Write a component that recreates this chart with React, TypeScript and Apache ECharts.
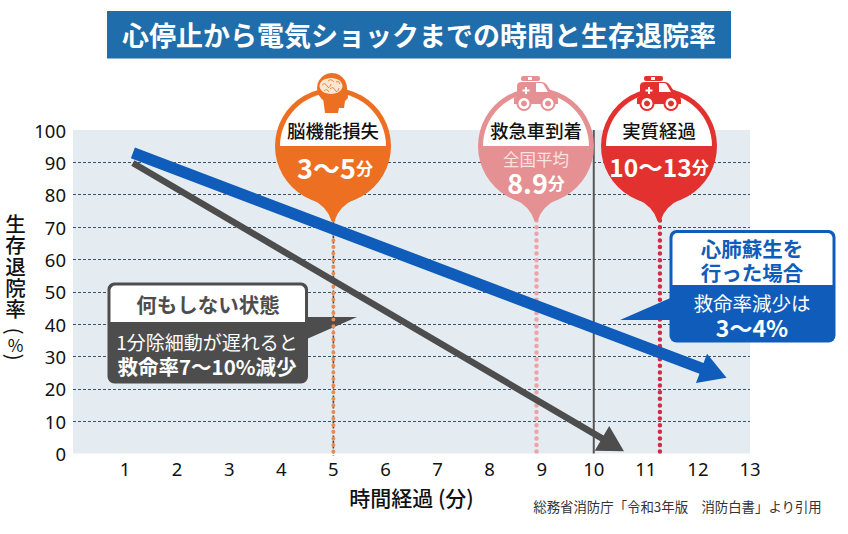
import React, { useEffect, useRef } from "react";
import * as echarts from "echarts";

const xTicks = [0, 1, 2, 3, 4, 5, 6, 7, 8, 9, 10, 11, 12, 13];
const yTicks = [0, 10, 20, 30, 40, 50, 60, 70, 80, 90, 100];
const withCare = [1.15, 92.9, 12.55, 23.4];
const noCare = [1.15, 89.8, 10.58, 0.7];
const brainTime = 5;
const ambulanceTime = 8.9;
const actualTime = 11.27;
const referenceTime = 10;
const pinFoot = -0.8;
const pinTop = 72;

const JP = '"Noto Sans CJK JP"';
const ORANGE = "#ec6f22";
const PINK = "#e59092";
const RED = "#e3312f";
const BLUE = "#0f5cbb";
const GRAY = "#4d4d4d";

echarts.graphic.registerShape(
  "pinTail",
  echarts.graphic.extendPath("M-22,53 Q-6,60 -1.5,75 L1.5,75 Q6,60 22,53 Z", {})
);
echarts.graphic.registerShape(
  "pinWhite",
  echarts.graphic.extendPath("M-53,0 A53,53 0 0,1 53,0 Z", {})
);
echarts.graphic.registerShape(
  "neck",
  echarts.graphic.extendPath("M-10,-48 L-8,-33 L5,-33 L6,-38 L11,-38 L12,-45 L15,-48 L14,-58 Z", {})
);
echarts.graphic.registerShape(
  "brainLines",
  echarts.graphic.extendPath(
    "M-11,-61 Q-8,-64 -6,-60 T-2,-62 M-9,-55 Q-6,-58 -4,-54 M-3,-57 Q0,-60 2,-56 T6,-58 M-5,-65 Q-2,-68 1,-64 M3,-64 Q6,-66 7,-62",
    {}
  )
);
echarts.graphic.registerShape(
  "carBody",
  echarts.graphic.extendPath(
    "M-22,-42 L-22,-48 L-19,-50 L-19,-60 Q-19,-64 -14,-64 L6,-64 Q9,-64 11,-61 L16,-53 Q22,-51 22,-46 L22,-42 Z",
    {}
  )
);
echarts.graphic.registerShape(
  "carWindow",
  echarts.graphic.extendPath("M0,-63 L5,-63 Q7,-63 8,-61 L12,-54 L0,-54 Z", {})
);

function pinElements(cx: number, color: string, title: string, titleSize: number) {
  const cy = 146;
  const z = 20;
  return [
    { type: "circle", z, shape: { cx, cy, r: 58 }, style: { fill: color } },
    { type: "pinTail", z, x: cx, y: cy, style: { fill: color } },
    { type: "pinWhite", z, x: cx, y: cy, style: { fill: "#ffffff" } },
    {
      type: "text",
      z: z + 2,
      x: cx,
      y: 130,
      style: {
        text: title,
        fontFamily: JP,
        fontSize: titleSize,
        fontWeight: 500,
        fill: "#111",
        align: "center",
        verticalAlign: "middle",
      },
    },
  ];
}

function carElements(cx: number, color: string) {
  const cy = 146;
  const z = 21;
  const wheel = (dx: number) => [
    { type: "circle", z, shape: { cx: cx + dx, cy: cy - 42.5, r: 7.5 }, style: { fill: color } },
    { type: "circle", z, shape: { cx: cx + dx, cy: cy - 42.5, r: 5.5 }, style: { fill: "#fff" } },
    { type: "circle", z, shape: { cx: cx + dx, cy: cy - 42.5, r: 3 }, style: { fill: color } },
  ];
  return [
    { type: "rect", z, shape: { x: cx - 15, y: cy - 70, width: 19, height: 5, r: 2 }, style: { fill: color } },
    { type: "rect", z, shape: { x: cx - 8, y: cy - 69, width: 4, height: 3 }, style: { fill: "#fff" } },
    { type: "carBody", z, x: cx, y: cy, style: { fill: color } },
    { type: "carWindow", z, x: cx, y: cy, style: { fill: "#fff" } },
    { type: "rect", z, shape: { x: cx - 13.5, y: cy - 56.5, width: 7, height: 2 }, style: { fill: "#fff" } },
    { type: "rect", z, shape: { x: cx - 11, y: cy - 59, width: 2, height: 7 }, style: { fill: "#fff" } },
    ...wheel(-12),
    ...wheel(12),
  ];
}

function brainElements(cx: number) {
  const cy = 146;
  const z = 21;
  return [
    { type: "circle", z, shape: { cx: cx - 1, cy: cy - 58, r: 15 }, style: { fill: ORANGE } },
    { type: "neck", z, x: cx, y: cy, style: { fill: ORANGE } },
    { type: "ellipse", z, shape: { cx: cx - 2, cy: cy - 60, rx: 11.5, ry: 8 }, style: { fill: "#fbe6d2" } },
    { type: "brainLines", z, x: cx, y: cy, style: { fill: "none", stroke: ORANGE, lineWidth: 0.8 } },
  ];
}

function textEl(x: number, y: number, text: string, size: number, weight: number, fill: string, z = 25, extra: any = {}, styleExtra: any = {}) {
  return {
    type: "text",
    z,
    x,
    y,
    ...extra,
    style: {
      text,
      fontFamily: JP,
      fontSize: size,
      fontWeight: weight,
      fill,
      align: "center",
      verticalAlign: "middle",
      ...styleExtra,
    },
  };
}

function valueWithUnit(x: number, y: number, value: string, size: number) {
  return {
    type: "text",
    z: 25,
    x,
    y,
    style: {
      text: `{a|${value}}{b|分}`,
      align: "center",
      verticalAlign: "middle",
      rich: {
        a: { fontFamily: JP, fontSize: size, fontWeight: 700, fill: "#fff" },
        b: { fontFamily: JP, fontSize: 17, fontWeight: 700, fill: "#fff" },
      },
    },
  };
}

function arrowSeries(values: number[], color: string, width: number, headLen: number, headHalf: number, z: number) {
  return {
    type: "custom",
    z,
    silent: true,
    data: [values],
    encode: { x: [0, 2], y: [1, 3] },
    renderItem: (_p: any, api: any) => {
      const s = api.coord([api.value(0), api.value(1)]);
      const t = api.coord([api.value(2), api.value(3)]);
      const len = Math.hypot(t[0] - s[0], t[1] - s[1]);
      const ux = (t[0] - s[0]) / len;
      const uy = (t[1] - s[1]) / len;
      const nx = -uy;
      const ny = ux;
      const bx = t[0] - ux * headLen;
      const by = t[1] - uy * headLen;
      const w = width / 2;
      return {
        type: "polygon",
        shape: {
          points: [
            [s[0] + nx * w, s[1] + ny * w],
            [bx + nx * w, by + ny * w],
            [bx + nx * headHalf, by + ny * headHalf],
            t,
            [bx - nx * headHalf, by - ny * headHalf],
            [bx - nx * w, by - ny * w],
            [s[0] - nx * w, s[1] - ny * w],
          ],
        },
        style: { fill: color },
      };
    },
  };
}

function vline(x: number, top: number, color: string, width: number, dash: any, z: number, cap = "butt") {
  return {
    type: "line",
    z,
    silent: true,
    symbol: "none",
    data: [
      [x, top],
      [x, pinFoot],
    ],
    clip: false,
    lineStyle: { color, width, type: dash, cap },
  };
}

export default function App() {
  const ref = useRef<HTMLDivElement>(null);

  useEffect(() => {
    if (!ref.current) return;
    const chart = echarts.init(ref.current, undefined, { renderer: "svg" });
    const graphics: any[] = [
      { type: "rect", z: 5, shape: { x: 107, y: 11, width: 624, height: 47.5 }, style: { fill: "#1f6dab" } },
      textEl(419, 34, "心停止から電気ショックまでの時間と生存退院率", 27, 700, "#ffffff"),

      ...pinElements(333, ORANGE, "脳機能損失", 18.4),
      ...brainElements(333),
      valueWithUnit(335, 167, "3〜5", 27),

      ...pinElements(536, PINK, "救急車到着", 18.4),
      ...carElements(536, PINK),
      textEl(536, 159, "全国平均", 16.5, 400, "#fbe3e3"),
      valueWithUnit(536, 182, "8.9", 27),

      ...pinElements(659, RED, "実質経過", 18.4),
      ...carElements(659, RED),
      valueWithUnit(659, 166, "10〜13", 24.5),

      // y axis title
      textEl(15.5, 265.5, "生\n存\n退\n院\n率", 20.5, 500, "#111", 25, {}, { lineHeight: 21.4 }),
      textEl(15.5, 331, "(", 20, 400, "#111", 25, { rotation: -Math.PI / 2 }),
      textEl(15.5, 344, "%", 17, 400, "#111"),
      textEl(15.5, 357, ")", 20, 400, "#111", 25, { rotation: -Math.PI / 2 }),

      // left callout
      { type: "polygon", z: 3, shape: { points: [[300, 317], [357, 317], [300, 342]] }, style: { fill: GRAY } },
      { type: "rect", z: 20, shape: { x: 107.5, y: 282.5, width: 200.5, height: 101, r: 7 }, style: { fill: GRAY } },
      { type: "rect", z: 21, shape: { x: 110.5, y: 285.5, width: 194.5, height: 36.5, r: [5, 5, 0, 0] }, style: { fill: "#ffffff" } },
      textEl(208, 304, "何もしない状態", 20.5, 700, GRAY),
      textEl(207, 341, "1分除細動が遅れると", 19, 400, "#ffffff"),
      textEl(207, 366, "救命率7〜10%減少", 20.5, 700, "#ffffff"),

      // right callout
      { type: "polygon", z: 20, shape: { points: [[620, 320], [675, 296], [675, 320]] }, style: { fill: BLUE } },
      { type: "rect", z: 20, shape: { x: 669.5, y: 230, width: 166, height: 112.5, r: 7 }, style: { fill: BLUE } },
      { type: "rect", z: 21, shape: { x: 672.5, y: 233, width: 160, height: 52, r: [5, 5, 0, 0] }, style: { fill: "#ffffff" } },
      textEl(752, 248, "心肺蘇生を", 20.5, 700, BLUE),
      textEl(752, 272, "行った場合", 20.5, 700, BLUE),
      textEl(752, 302, "救命率減少は", 19.5, 400, "#ffffff"),
      textEl(752, 327, "3〜4%", 23, 700, "#ffffff"),

      // source
      textEl(677.5, 506, "総務省消防庁「令和3年版　消防白書」より引用", 13.4, 400, "#333333", 25),
    ];

    chart.setOption({
      animation: false,
      backgroundColor: "#ffffff",
      grid: {
        left: 73,
        right: 98,
        top: 130,
        height: 323.5,
        show: true,
        backgroundColor: "#e4ecf2",
        borderWidth: 0,
        containLabel: false,
        outerBoundsMode: "none",
      },
      xAxis: {
        type: "value",
        min: 0,
        max: 13,
        interval: 1,
        name: "時間経過 (分)",
        nameLocation: "middle",
        nameGap: 33,
        nameTextStyle: { fontFamily: JP, fontSize: 21, fontWeight: 500, color: "#111" },
        axisLine: { show: false },
        axisTick: { show: false },
        splitLine: { show: false },
        axisLabel: {
          margin: 5,
          fontFamily: '"Noto Sans"',
          fontSize: 18.5,
          color: "#111",
          showMinLabel: false,
          formatter: (v: number) => (xTicks.includes(v) ? String(v) : ""),
        },
      },
      yAxis: {
        type: "value",
        min: 0,
        max: 100,
        interval: 10,
        axisLine: { show: false },
        axisTick: { show: false },
        axisLabel: {
          margin: 7,
          fontFamily: '"Noto Sans"',
          fontSize: 18.5,
          color: "#111",
          formatter: (v: number) => (yTicks.includes(v) ? String(v) : ""),
        },
        splitLine: {
          show: true,
          showMinLine: false,
          showMaxLine: false,
          lineStyle: { color: "#38566b", width: 1.2, type: [3, 2] },
        },
      },
      series: [
        vline(brainTime, pinTop, "#3c4a55", 1.6, [3, 2], 4),
        vline(brainTime, pinTop, "#ee8a4c", 4, [0, 6.6], 5, "round"),
        vline(ambulanceTime, pinTop, "#eda3a8", 4.5, [0, 6.6], 5, "round"),
        vline(actualTime, pinTop, "#d12b46", 4.5, [0, 6.6], 5, "round"),
        {
          type: "line",
          z: 5,
          silent: true,
          symbol: "none",
          data: [
            [referenceTime, 100],
            [referenceTime, 0],
          ],
          lineStyle: { color: "#555555", width: 2 },
        },
        arrowSeries(noCare, GRAY, 6.5, 25.5, 14.3, 6),
        arrowSeries(withCare, BLUE, 11.5, 26.8, 15.7, 7),
      ],
      graphic: { elements: graphics },
    });
    return () => chart.dispose();
  }, []);

  return (
    <div
      ref={ref}
      style={{ position: "fixed", left: 0, top: 0, width: 848, height: 534, background: "#fff" }}
    />
  );
}
